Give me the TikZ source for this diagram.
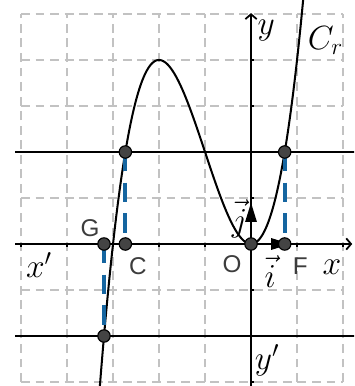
\documentclass[tikz,border=0pt]{standalone}
\usepackage{fontspec}
\newfontfamily\lblfont{Liberation Sans}
\usetikzlibrary{arrows.meta}
\definecolor{gridgray}{RGB}{194,194,194}
\definecolor{segblue}{RGB}{21,101,160}
\definecolor{ptgray}{RGB}{68,68,68}
\definecolor{lblgray}{RGB}{60,60,60}
\tikzset{
  gridline/.style={gridgray, line width=1.25pt, dash pattern=on 5.5pt off 3.5pt},
  axisline/.style={black, line width=1.1pt},
  curveline/.style={black, line width=1.25pt},
  segline/.style={segblue, line width=2.6pt, dash pattern=on 12pt off 7pt},
  vecline/.style={black, line width=1.2pt, -{Triangle[length=12pt,width=7pt]}},
  pt/.style={circle, fill=ptgray, draw=black, line width=0.7pt, minimum size=0.27cm, inner sep=0pt},
  ptlbl/.style={font=\lblfont\fontsize{15}{17}\selectfont, text=lblgray, inner sep=0pt},
  mlbl/.style={font=\fontsize{19.5}{22}\selectfont, inner sep=0pt}
}
\begin{document}
\begin{tikzpicture}[x=1cm,y=1cm]
\useasboundingbox (-5.457,-3.087) rectangle (2.239,5.304);
\clip (-5.457,-3.087) rectangle (2.239,5.304);
% grid
\foreach \x in {-5,...,2} \draw[gridline] (\x,-3) -- (\x,5);
\foreach \y in {-3,...,5} \draw[gridline] (-5,\y) -- (2,\y);
% horizontal lines
\coordinate (L2a) at (-5.13,2);
\coordinate (L2b) at (2.3,2);
\coordinate (Lm2a) at (-5.13,-2);
\coordinate (Lm2b) at (2.3,-2);
\draw[axisline] (L2a) -- (L2b);
\draw[axisline] (Lm2a) -- (Lm2b);
% axes
\coordinate (xa) at (-5.13,0);
\coordinate (xb) at (2.2,0);
\coordinate (ya) at (0,-3.2);
\coordinate (yb) at (0,5.02);
\draw[axisline, -{Straight Barb[length=3pt,width=7pt]}] (xa) -- (xb);
\draw[axisline, -{Straight Barb[length=3pt,width=7pt]}] (ya) -- (yb);
\foreach \x in {-5,...,-1,1,2} \draw[axisline, line width=0.7pt] (\x,0) -- (\x,-0.07);
\foreach \y in {-3,...,-1,1,2,3,4} \draw[axisline, line width=0.7pt] (0,\y) -- (0.07,\y);
% curve
\draw[curveline] plot[domain=-3.32:1.17, samples=240, smooth] (\x, {\x*\x*\x+3*\x*\x});
% points coordinates
\coordinate (Pc) at (-2.732,2);
\coordinate (Pf) at (0.732,2);
\coordinate (Pg) at (-3.196,-2);
\coordinate (Cc) at (-2.732,0);
\coordinate (Ff) at (0.732,0);
\coordinate (Gg) at (-3.196,0);
\coordinate (Oo) at (0,0);
% blue dashed segments
\draw[segline] (Pc) -- (Cc);
\draw[segline] (Pf) -- (Ff);
\draw[segline] (Gg) -- (Pg);
% vectors
\coordinate (jtip) at (0,0.9);
\coordinate (itip) at (0.86,0);
\draw[vecline] (Oo) -- (jtip);
\draw[vecline] (Oo) -- (itip);
% points
\node[pt] (nPc) at (Pc) {};
\node[pt] (nPf) at (Pf) {};
\node[pt] (nPg) at (Pg) {};
\node[pt] (nC) at (Cc) {};
\node[pt] (nF) at (Ff) {};
\node[pt] (nG) at (Gg) {};
\node[pt] (nO) at (Oo) {};
% labels
\node[ptlbl] (tG) at (-3.5,0.35) {G};
\node[ptlbl] (tC) at (-2.46,-0.48) {C};
\node[ptlbl] (tO) at (-0.41,-0.44) {O};
\node[ptlbl] (tF) at (1.07,-0.48) {F};
\node[mlbl] (tx) at (1.76,-0.5) {$x$};
\node[mlbl] (txp) at (-4.61,-0.46) {$x'$};
\node[mlbl] (ty) at (0.33,4.65) {$y$};
\node[mlbl] (typ) at (0.35,-2.52) {$y'$};
\node[mlbl] (tCr) at (1.62,4.43) {$C_r$};
\node[mlbl] (ti) at (0.42,-0.6) {$\vec{i}$};
\node[mlbl] (tj) at (-0.25,0.55) {$\vec{j}$};
\end{tikzpicture}
\end{document}
